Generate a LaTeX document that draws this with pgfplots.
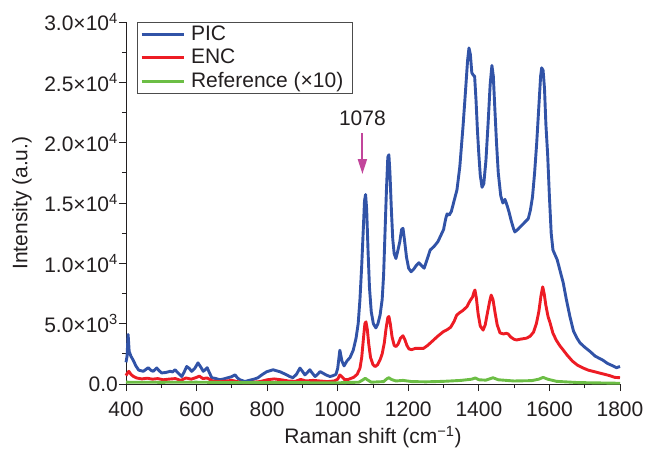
\documentclass[border=0pt]{standalone}
\usepackage{pgfplots}
\pgfplotsset{compat=1.18}
\usepackage{fontspec}
\setmainfont{Liberation Sans}
\usetikzlibrary{arrows.meta}
\definecolor{picblue}{RGB}{49,83,167}
\definecolor{encred}{RGB}{237,28,36}
\definecolor{refgreen}{RGB}{108,190,69}
\definecolor{arrowmag}{RGB}{194,69,155}
\definecolor{txt}{RGB}{35,31,32}
\begin{document}
\fontsize{21}{25}\selectfont
\begin{tikzpicture}
\useasboundingbox (-126pt,-66pt) rectangle (519pt,384pt);
\begin{axis}[
  at={(0pt,0pt)}, anchor=south west,
  scale only axis, width=494pt, height=362pt,
  xmin=400, xmax=1800, ymin=0, ymax=30000,
  axis x line*=bottom, axis y line*=left,
  axis line style={txt, line width=0.9pt},
  every tick/.style={txt, line width=0.9pt},
  tick align=outside, major tick length=7pt, minor tick length=4pt,
  xtick={400,600,800,1000,1200,1400,1600,1800},
  xticklabels={400,600,800,1000,1200,1400,1600,1800},
  minor x tick num=1,
  ytick={0,5000,10000,15000,20000,25000,30000},
  yticklabels={0.0, 5.0×10\textsuperscript{3}, 1.0×10\textsuperscript{4}, 1.5×10\textsuperscript{4}, 2.0×10\textsuperscript{4}, 2.5×10\textsuperscript{4}, 3.0×10\textsuperscript{4}},
  minor y tick num=1,
  scaled y ticks=false,
  ticklabel style={font=\fontsize{21}{25}\selectfont, text=txt},
  xticklabel style={yshift=-4pt},
  yticklabel style={inner sep=1pt},
  every axis x label/.style={at={(axis description cs:0.5,0)}, yshift=-53pt, anchor=center, font=\fontsize{21}{25}\selectfont, text=txt},
  every axis y label/.style={at={(axis description cs:0,0.5)}, xshift=-104pt, rotate=90, anchor=center, font=\fontsize{21}{25}\selectfont, text=txt},
  xlabel={Raman shift (cm\textsuperscript{−1})},
  ylabel={Intensity (a.u.)},
  legend style={at={(axis description cs:0.0223,1)}, anchor=north west, draw=black!70, line width=0.8pt, font=\fontsize{21}{23}\selectfont, text=txt, inner xsep=3pt, inner ysep=1pt, row sep=1.5pt, nodes={inner xsep=6pt}},
  legend cell align=left,
  legend image code/.code={\draw[#1, line width=2.6pt] (0pt,0pt) -- (42pt,0pt);},
  clip=false,
]
\addplot[picblue, line width=2.9pt, line join=round] coordinates {
(400,1800) (403,2300) (406,4100) (409,2700) (414,2300) (420,2000) (428,1500) (436,1150) (449,1050) (456,1200) (463,1350) (470,1150) (477,1050) (487,1330) (494,1100) (501,920) (512,950) (525,1050) (532,1000) (539,1180) (548,900) (558,620) (565,1000) (572,1450) (579,1300) (586,1050) (595,1300) (604,1750) (612,1400) (619,1050) (625,1200) (630,1350) (637,900) (643,520) (655,450) (666,350) (677,420) (689,520) (699,600) (709,760) (716,500) (723,350) (730,280) (737,200) (746,280) (756,350) (765,420) (774,520) (787,800) (799,1020) (808,1100) (817,1180) (826,1100) (836,1020) (845,900) (855,760) (864,620) (873,520) (883,800) (893,1320) (900,1050) (907,760) (914,950) (921,1180) (928,900) (936,620) (943,800) (950,1030) (958,900) (967,750) (978,620) (986,680) (995,800) (1000,1300) (1006,2800) (1012,1900) (1018,1500) (1026,1900) (1035,2200) (1044,2800) (1052,3800) (1058,5000) (1063,7000) (1068,9800) (1072,12500) (1076,15200) (1079,15700) (1082,14500) (1086,11000) (1090,8000) (1095,6000) (1101,5000) (1108,4650) (1114,5000) (1120,5700) (1126,7000) (1130,9000) (1134,12500) (1138,16000) (1142,18800) (1145,19000) (1148,17500) (1152,14500) (1156,12000) (1160,10800) (1165,10400) (1170,11000) (1176,11800) (1181,12800) (1185,12900) (1189,12000) (1195,10500) (1201,9600) (1208,9300) (1215,9500) (1222,9800) (1230,10050) (1238,9800) (1245,9600) (1252,10200) (1262,11100) (1273,11400) (1284,11800) (1292,12300) (1300,12800) (1306,13700) (1310,14100) (1316,14000) (1322,14300) (1330,15200) (1338,16100) (1346,18000) (1355,21300) (1362,24200) (1368,26800) (1372,27850) (1376,27300) (1380,25800) (1384,25600) (1388,25500) (1392,23500) (1396,21000) (1400,19000) (1404,17300) (1409,16300) (1414,16600) (1420,18500) (1426,21500) (1432,24800) (1437,26400) (1441,25500) (1445,23000) (1450,20000) (1455,17500) (1462,15600) (1468,15000) (1474,15300) (1480,14800) (1486,14200) (1492,13500) (1498,12900) (1502,12600) (1510,12800) (1520,13100) (1530,13400) (1540,13700) (1546,14400) (1552,15500) (1558,17500) (1564,20000) (1570,23000) (1575,25500) (1578,26200) (1582,26000) (1586,24500) (1590,21500) (1595,19000) (1600,15500) (1605,12500) (1610,11100) (1622,10300) (1630,9400) (1639,8400) (1648,7000) (1658,5600) (1668,4400) (1678,3800) (1687,3400) (1700,3050) (1715,2700) (1730,2300) (1750,2000) (1765,1700) (1780,1500) (1790,1350) (1800,1450)
};
\addlegendentry{PIC}
\addplot[encred, line width=2.9pt, line join=round] coordinates {
(400,700) (404,900) (408,1050) (414,800) (420,650) (430,500) (445,420) (460,480) (475,400) (490,450) (505,350) (520,400) (540,450) (555,300) (570,500) (585,400) (600,550) (608,650) (618,450) (630,500) (645,250) (660,200) (680,230) (700,300) (715,200) (730,120) (745,100) (760,150) (780,200) (800,350) (820,420) (840,350) (860,250) (880,220) (895,380) (910,250) (930,300) (950,250) (970,200) (990,250) (1000,400) (1006,750) (1012,600) (1020,350) (1030,380) (1045,550) (1055,800) (1063,1300) (1068,2200) (1073,3800) (1077,5000) (1080,5150) (1084,4500) (1088,3300) (1093,2200) (1100,1600) (1106,1440) (1113,1600) (1120,2000) (1126,2500) (1132,3400) (1137,4600) (1142,5500) (1145,5600) (1149,5000) (1154,3900) (1160,3200) (1165,3100) (1171,3300) (1178,3800) (1185,4000) (1190,3700) (1196,3200) (1202,2900) (1210,2850) (1220,2950) (1232,2950) (1243,2950) (1255,3200) (1270,3600) (1283,3950) (1299,4330) (1310,4500) (1320,4700) (1330,5200) (1337,5700) (1345,5900) (1355,6100) (1366,6400) (1375,6900) (1382,7200) (1386,7600) (1389,7790) (1393,7100) (1398,5800) (1404,4800) (1412,4470) (1418,4900) (1425,6000) (1431,6900) (1435,7370) (1440,7000) (1446,5900) (1452,4900) (1460,4230) (1470,4150) (1478,4200) (1483,4150) (1490,3900) (1500,3700) (1507,3650) (1515,3700) (1525,3750) (1535,3800) (1545,3950) (1555,4300) (1563,5000) (1570,6000) (1576,7300) (1581,8050) (1585,7500) (1590,6500) (1596,5600) (1602,5050) (1610,4200) (1620,3600) (1630,3150) (1639,2820) (1650,2400) (1665,1900) (1680,1550) (1695,1330) (1710,1150) (1730,1000) (1750,850) (1770,700) (1785,550) (1800,520)
};
\addlegendentry{ENC}
\addplot[refgreen, line width=2.9pt, line join=round] coordinates {
(400,150) (500,140) (600,150) (700,120) (800,120) (900,110) (1000,100) (1060,150) (1072,350) (1078,480) (1084,350) (1095,150) (1130,200) (1140,450) (1145,520) (1152,380) (1165,250) (1185,300) (1210,200) (1250,180) (1300,220) (1350,300) (1380,400) (1390,500) (1400,350) (1420,320) (1440,520) (1455,350) (1500,250) (1550,280) (1570,400) (1582,550) (1595,400) (1620,220) (1680,120) (1800,60)
};
\addlegendentry{Reference (×10)}
\draw[arrowmag, line width=2pt, -{Triangle[length=15pt,width=9pt]}] (axis cs:1070,20800) -- (axis cs:1070,17400);
\node[text=txt, font=\fontsize{21}{25}\selectfont, anchor=center] at (axis cs:1070,22050) {1078};
\end{axis}
\end{tikzpicture}
\end{document}
